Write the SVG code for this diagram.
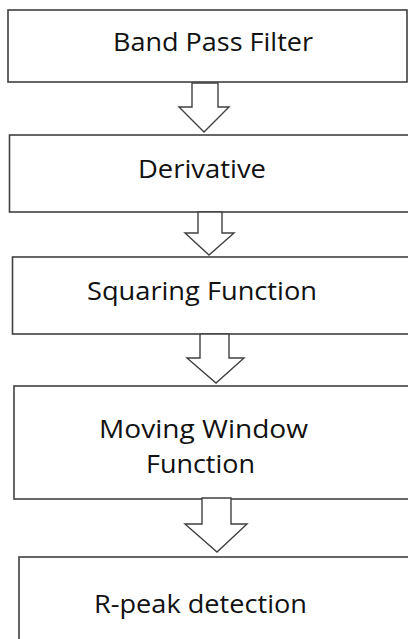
<svg xmlns="http://www.w3.org/2000/svg" width="408" height="639" viewBox="0 0 408 639">
<style>
.box{fill:#fff;stroke:#404040;stroke-width:1.6}
.arr{fill:#fff;stroke:#404040;stroke-width:1.4;stroke-linejoin:miter}
.t{font-family:"Open Sans","Noto Sans",sans-serif;font-size:25px;fill:#111;text-anchor:middle}
</style>
<rect width="408" height="639" fill="#fff"/>
<g id="n1"><rect class="box" x="8" y="10" width="399" height="72"/><text class="t" x="213" y="51" textLength="200" lengthAdjust="spacingAndGlyphs">Band Pass Filter</text></g>
<g id="n2"><rect class="box" x="9.5" y="135" width="410" height="77"/><text class="t" x="202" y="178" textLength="128" lengthAdjust="spacingAndGlyphs">Derivative</text></g>
<g id="n3"><rect class="box" x="12.5" y="257" width="410" height="77"/><text class="t" x="202" y="300" textLength="230" lengthAdjust="spacingAndGlyphs">Squaring Function</text></g>
<g id="n4"><rect class="box" x="14" y="386" width="410" height="113"/><text class="t" x="203.5" y="438" textLength="209" lengthAdjust="spacingAndGlyphs">Moving Window</text><text class="t" x="200.5" y="473" textLength="109" lengthAdjust="spacingAndGlyphs">Function</text></g>
<g id="n5"><rect class="box" x="19" y="557" width="410" height="100"/><text class="t" x="200.5" y="613" textLength="213" lengthAdjust="spacingAndGlyphs">R-peak detection</text></g>
<g id="connectors">
<polygon class="arr" points="192,83 218,83 218,107 229,107 204,132 179,107 192,107"/>
<polygon class="arr" points="198,212 222,212 222,233 234,233 209,255 185,233 198,233"/>
<polygon class="arr" points="200,334 229,334 229,358 244,358 216,383 187,358 200,358"/>
<polygon class="arr" points="202,498 231,498 231,524 247,524 217,552 185,524 202,524"/>
</g>
</svg>
